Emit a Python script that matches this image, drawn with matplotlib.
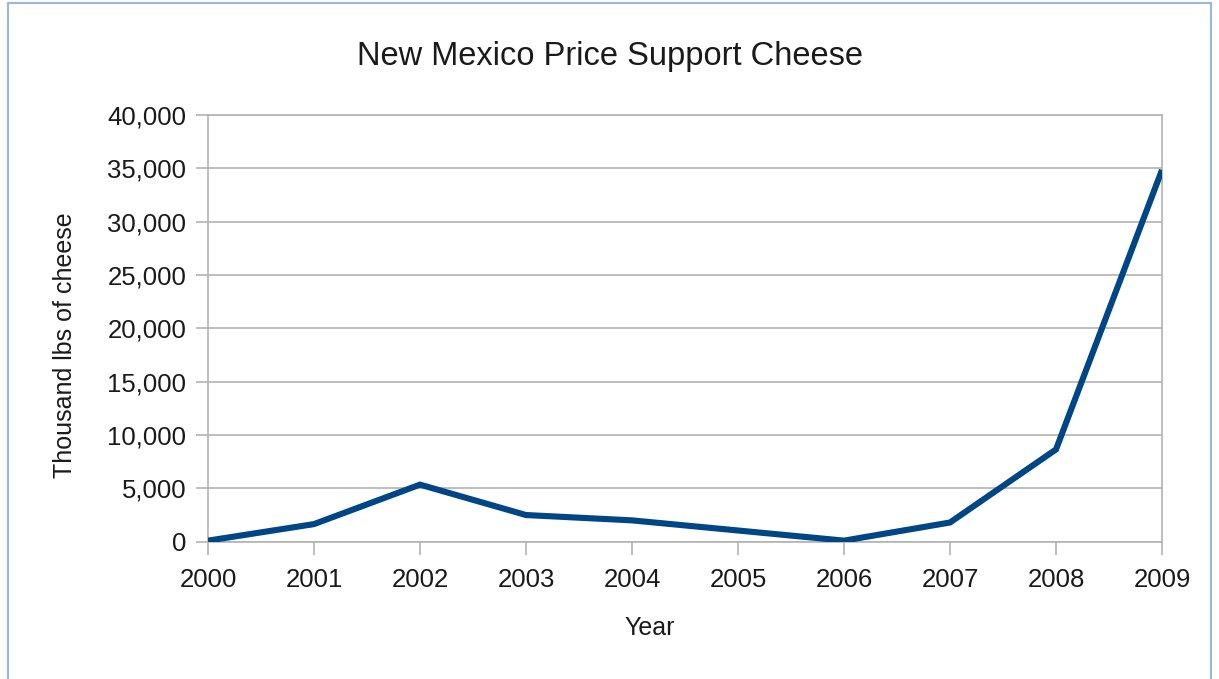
import matplotlib.pyplot as plt
from matplotlib.lines import Line2D
from matplotlib.ticker import FuncFormatter

years = [2000, 2001, 2002, 2003, 2004, 2005, 2006, 2007, 2008, 2009]
cheese = [100, 1650, 5350, 2500, 2000, 1050, 100, 1800, 8650, 34850]

y_ticks = list(range(0, 40001, 5000))

plt.rcParams["font.family"] = ["Liberation Sans", "DejaVu Sans"]

W, H = 1219, 679
fig = plt.figure(figsize=(W / 100, H / 100), dpi=100)
ax = fig.add_axes([208 / W, 137.3 / H, 954 / W, 426.7 / H])

grid_c = "#b3b3b3"
text_c = "#1a1a1a"
ax.plot(years, cheese, color="#004586", linewidth=4.4, solid_joinstyle="miter",
        solid_capstyle="butt", zorder=3)

ax.set_xlim(years[0], years[-1])
ax.set_ylim(0, 40000)
ax.set_xticks(years)
ax.set_yticks(y_ticks)
ax.yaxis.set_major_formatter(FuncFormatter(lambda v, p: f"{int(v):,}"))
ax.grid(axis="y", color=grid_c, linewidth=1.2)
ax.set_axisbelow(True)
for s in ax.spines.values():
    s.set_color(grid_c)
    s.set_linewidth(1.2)
ax.tick_params(axis="both", colors=grid_c, labelcolor=text_c, labelsize=18.5,
               length=9, width=1.2)
ax.tick_params(axis="y", pad=6.5)
ax.tick_params(axis="x", pad=10)

fig.text(610 / W, 1 - 56 / H, "New Mexico Price Support Cheese", fontsize=23.5,
         color=text_c, ha="center", va="center")
fig.text(650 / W, 1 - 628 / H, "Year", fontsize=18, color=text_c, ha="center", va="center")
fig.text(65 / W, 1 - 345 / H, "Thousand lbs of cheese", fontsize=18, color=text_c,
         ha="center", va="center", rotation=90)

# light blue frame around the chart area
bc = "#9db6dc"
for xs, ys in [([8, 8], [H, 3]), ([8, 1211], [3, 3]), ([1211, 1211], [3, H])]:
    fig.add_artist(Line2D([x / W for x in xs], [1 - y / H for y in ys],
                          transform=fig.transFigure, color=bc, linewidth=1.5))

fig.savefig("out.png", dpi=100)
